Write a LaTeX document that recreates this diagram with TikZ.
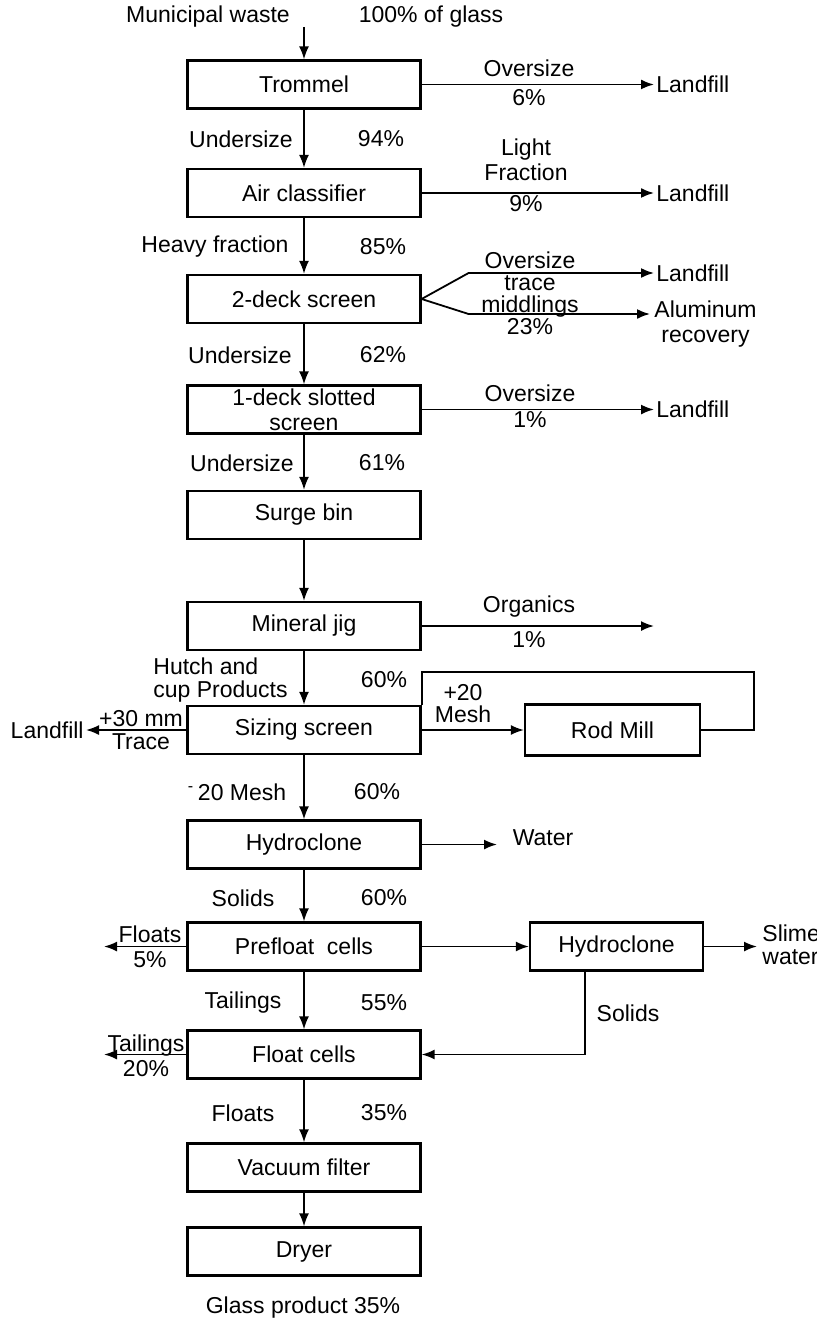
\documentclass[tikz,border=0pt]{standalone}
\usepackage{fontspec}
\setmainfont{Liberation Sans}
\usepackage{tikz}
\usetikzlibrary{arrows.meta, positioning, calc}

\begin{document}
\begin{tikzpicture}[x=0.5pt, y=-0.5pt,
  font=\fontsize{11.5}{12.5}\selectfont,
  box/.style={draw, line width=1.1pt, minimum width=116.5pt, minimum height=24pt, inner sep=1pt, align=center},
  flow/.style={line width=0.9pt, -{Latex[length=6.5pt, width=5pt]}},
  pipe/.style={line width=0.9pt},
  lbl/.style={inner sep=1pt, align=center},
  endpt/.style={inner sep=1pt, anchor=west, align=center}]

  \useasboundingbox[fill=white] (0,0) rectangle (817,1321);

  % main column
  \node[box] (trommel)  at (304,84.5)   {Trommel};
  \node[box] (aircl)    at (304,193)    {Air classifier};
  \node[box] (deck2)    at (304,299)    {2-deck screen};
  \node[box] (deck1)    at (304,409.5)  {1-deck slotted\\screen};
  \node[box] (surge)    at (304,515)    {Surge bin};
  \node[box] (jig)      at (304,626)    {Mineral jig};
  \node[box] (sizing)   at (304,730)    {Sizing screen};
  \node[box] (hydro1)   at (304,844.5)  {Hydroclone};
  \node[box] (prefloat) at (304,946.5)  {Prefloat\ \ cells};
  \node[box] (floatc)   at (304,1054.5) {Float cells};
  \node[box] (vacuum)   at (304,1167.5) {Vacuum filter};
  \node[box] (dryer)    at (304,1251.5) {Dryer};

  % side units
  \node[box, minimum width=87.5pt, minimum height=25.5pt] (rodmill) at (612.5,730)  {Rod Mill};
  \node[box, minimum width=86.5pt] (hydro2) at (616.5,946.5) {Hydroclone};

  % feed
  \node[lbl] (mwaste) at (208,17) {Municipal waste};
  \node[lbl] (pglass) at (431,17) {100\% of glass};
  \coordinate (feed) at (304,27);
  \draw[flow] (feed) -- (trommel);

  % trommel
  \node[lbl] (os1) at (529,68) {Oversize};
  \node[lbl] (p6) at (529,98) {6\%};
  \node[endpt] (lf1) at (654,84.5) {Landfill};
  \draw[flow] (trommel) -- (lf1);
  \node[lbl] (us1) at (241,139) {Undersize};
  \node[lbl] (p94) at (381,139) {94\%};
  \draw[flow] (trommel) -- (aircl);

  % air classifier
  \node[lbl] (light) at (526,159.5) {Light\\Fraction};
  \node[lbl] (p9) at (526,204) {9\%};
  \node[endpt] (lf2) at (654,193) {Landfill};
  \draw[flow] (aircl) -- (lf2);
  \node[lbl] (heavy) at (215,247) {Heavy fraction};
  \node[lbl] (p85) at (383,247) {85\%};
  \draw[flow] (aircl) -- (deck2);

  % 2-deck screen
  \node[lbl, font=\fontsize{11.5}{11}\selectfont] (mid) at (530,293.5) {Oversize\\trace\\middlings\\23\%};
  \node[endpt] (lf3) at (654,273) {Landfill};
  \node[endpt, anchor=north west] (alu) at (652,298) {Aluminum\\recovery};
  \coordinate (alin) at (650,314);
  \draw[flow] (deck2.east) -- ++(47,-26) -- (lf3);
  \draw[flow] (deck2.east) -- ++(47,15) -- (alin);
  \node[lbl] (us2) at (240,355) {Undersize};
  \node[lbl] (p62) at (383,355) {62\%};
  \draw[flow] (deck2) -- (deck1);

  % 1-deck slotted screen
  \node[lbl] (os2) at (530,393) {Oversize};
  \node[lbl] (p1a) at (530,420) {1\%};
  \node[endpt] (lf4) at (654,409.5) {Landfill};
  \draw[flow] (deck1) -- (lf4);
  \node[lbl] (us3) at (242,463) {Undersize};
  \node[lbl] (p61) at (382,463) {61\%};
  \draw[flow] (deck1) -- (surge);
  \draw[flow] (surge) -- (jig);

  % mineral jig
  \node[lbl] (organics) at (529,607) {Organics};
  \node[lbl] (p1b) at (529,640) {1\%};
  \coordinate (org) at (654,626);
  \draw[flow] (jig) -- (org);
  \node[lbl, anchor=west, align=left, font=\fontsize{11.5}{11.5}\selectfont] (hutch) at (151,680.5) {Hutch and\\cup Products};
  \node[lbl] (p60a) at (384,680) {60\%};
  \draw[flow] (jig) -- (sizing);

  % sizing screen and rod mill
  \node[lbl, font=\fontsize{11.5}{11}\selectfont] (mesh20) at (463,704) {+20\\Mesh};
  \draw[flow] (sizing) -- (rodmill);
  \draw[pipe] (rodmill.east) -- ++(53,0) -- ++(0,-58) -| (sizing.north east);
  \node[lbl, anchor=east] (lf5) at (86,730) {Landfill};
  \node[lbl, font=\fontsize{11.5}{11.5}\selectfont] (mm30) at (141,730.5) {+30 mm\\Trace};
  \draw[flow] (sizing) -- (lf5);
  \node[lbl] (minus20) at (237,792) {\textsuperscript{-}\,20 Mesh};
  \node[lbl] (p60b) at (377,792) {60\%};
  \draw[flow] (sizing) -- (hydro1);

  % hydroclone
  \coordinate (wat) at (497,844.5);
  \draw[flow] (hydro1) -- (wat);
  \node[lbl] (water) at (543,838) {Water};
  \node[lbl] (solids1) at (243,898) {Solids};
  \node[lbl] (p60c) at (384,898) {60\%};
  \draw[flow] (hydro1) -- (prefloat);

  % prefloat cells
  \node[lbl] (floats1) at (150,947) {Floats\\5\%};
  \coordinate (fl) at (104,946.5);
  \draw[flow] (prefloat) -- (fl);
  \draw[flow] (prefloat) -- (hydro2);
  \coordinate (sl) at (757,946.5);
  \draw[flow] (hydro2) -- (sl);
  \node[lbl, anchor=west, align=left, font=\fontsize{11.5}{11.5}\selectfont] (slime) at (760,944.5) {Slime\\water};
  \node[lbl] (tail1) at (243,1003) {Tailings};
  \node[lbl] (p55) at (384,1003) {55\%};
  \draw[flow] (prefloat) -- (floatc);
  \node[lbl] (solids2) at (628,1013) {Solids};
  \draw[flow] ($(hydro2.south)+(-31.5,0)$) |- (floatc);

  % float cells
  \node[lbl] (tail2) at (146,1055.5) {Tailings\\20\%};
  \coordinate (tl) at (104,1054.5);
  \draw[flow] (floatc) -- (tl);
  \node[lbl] (floats2) at (243,1113) {Floats};
  \node[lbl] (p35) at (384,1113) {35\%};
  \draw[flow] (floatc) -- (vacuum);
  \draw[flow] (vacuum) -- (dryer);
  \node[lbl] (product) at (303,1308) {Glass product 35\%};
\end{tikzpicture}
\end{document}
